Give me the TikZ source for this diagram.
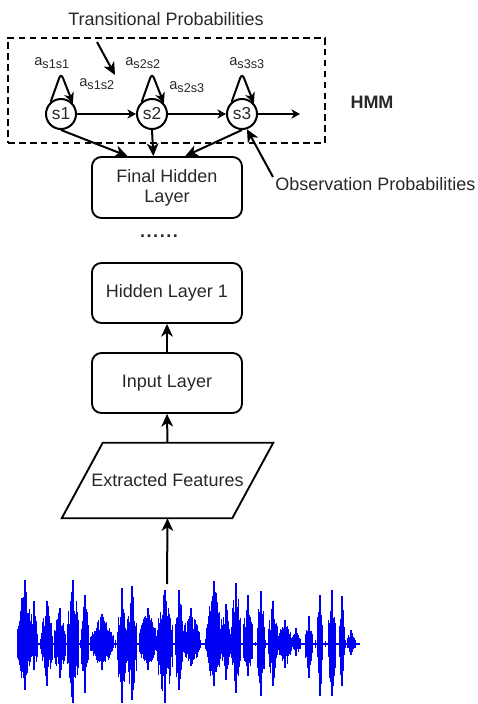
\documentclass[tikz,border=0pt]{standalone}
\usepackage{fontspec}
\setmainfont{Liberation Sans}
\usetikzlibrary{arrows.meta,calc}
\definecolor{txt}{RGB}{40,40,40}
\definecolor{waveblue}{RGB}{0,0,245}
\begin{document}
\begin{tikzpicture}[x=0.75pt,y=-0.75pt,
  lay/.style={draw,line width=1.4pt,rounded corners=7pt,minimum width=112.5pt,minimum height=45pt,align=center,inner sep=0pt,text=txt,font=\fontsize{13.5}{15}\selectfont},
  paratext/.style={minimum width=127.5pt,minimum height=56.25pt,inner sep=0pt,text=txt,font=\fontsize{13.5}{15}\selectfont},
  paraline/.style={draw,line width=1.4pt,line join=miter},
  state/.style={draw,circle,line width=1.5pt,minimum size=22.5pt,inner sep=0pt,text=txt,font=\fontsize{13}{14}\selectfont},
  conn/.style={line width=1.5pt,-{Stealth[length=9.5pt,width=8.75pt,inset=2.8pt]}},
  thinconn/.style={line width=0.8pt,-{Stealth[length=6.5pt,width=7pt,inset=2pt]}},
  loopconn/.style={line width=1.5pt,rounded corners=4pt,-{Stealth[length=8pt,width=7.5pt,inset=2.5pt]}},
  lbl/.style={text=txt,font=\fontsize{13.5}{15}\selectfont,inner sep=0pt},
  sublbl/.style={text=txt,font=\fontsize{11}{12}\selectfont,inner sep=0pt,anchor=west},
  hmmbox/.style={draw,line width=1.5pt,dash pattern=on 5pt off 3.2pt,minimum width=237.75pt,minimum height=78.75pt,inner sep=0pt},
  wave/.style={waveblue,line width=0.7pt}
]
\useasboundingbox (0,0) rectangle (478,704);
\newcommand{\sbs}[1]{\raisebox{-0.4ex}{\fontsize{9.5}{10}\selectfont #1}}

% HMM region
\node[hmmbox] (hmm) at (166.5,90.5) {};
\node[lbl] (trans) at (166,19) {Transitional Probabilities};
\node[lbl,font=\fontsize{13.5}{15}\selectfont\bfseries] (hmmlbl) at (372,102) {HMM};

\node[state] (s1) at (61,114) {s1};
\node[state] (s2) at (152,114) {s2};
\node[state] (s3) at (242,114) {s3};
\coordinate (send) at (300,114);

\node[sublbl] (a11) at (34,63) {a\sbs{s1s1}};
\node[sublbl] (a12) at (79,84) {a\sbs{s1s2}};
\node[sublbl] (a22) at (125,63) {a\sbs{s2s2}};
\node[sublbl] (a23) at (169,87) {a\sbs{s2s3}};
\node[sublbl] (a33) at (229,63) {a\sbs{s3s3}};

\foreach \s in {s1,s2,s3}{
  \draw[loopconn] (\s.130) -- ($(\s.north)+(0,-25)$) -- (\s.42);
}

\draw[thinconn] (s1) -- (s2);
\draw[thinconn] (s2) -- (s3);
\draw[thinconn] (s3) -- (send);

\coordinate (tpa) at (97,42);
\coordinate (tpb) at (115,75);
\draw[conn] (tpa) -- (tpb);

% Layers
\node[lay,minimum height=45.75pt] (fhl) at (167,187.5) {Final Hidden\\Layer};
\node[lay] (hl1) at (167,293) {Hidden Layer 1};
\node[lay] (inp) at (167,383) {Input Layer};
\node[paratext] (ef) at (167.5,480.5) {Extracted Features};
\draw[paraline] ($(ef.north west)+(20.5,0)$) -- ($(ef.north east)+(20.5,0)$)
  -- ($(ef.south east)+(-20.5,0)$) -- ($(ef.south west)+(-20.5,0)$) -- cycle;
\node[lbl,font=\fontsize{13.5}{15}\selectfont\bfseries] (dots) at (159,236) {\makebox[4.9pt]{.}\makebox[4.9pt]{.}\makebox[4.9pt]{.}\makebox[4.9pt]{.}\makebox[4.9pt]{.}\makebox[4.9pt]{.}};

\node[lbl,anchor=west] (obs) at (275,184) {Observation Probabilities};
\coordinate (opa) at (273,177);
\draw[conn] (opa) -- (s3.-72);

\draw[conn] (s1.south) -- ($(fhl.north west)!0.24!(fhl.north east)$);
\draw[conn] (s2.south) -- ($(fhl.north west)!0.41!(fhl.north east)$);
\draw[conn] (s3.south) -- ($(fhl.north west)!0.62!(fhl.north east)$);

\draw[conn] (inp.north) -- (hl1.south);
\draw[conn] (ef.north) -- (inp.south);
\coordinate (wv) at (167,584);
\draw[conn] (wv) -- (ef.south);

% Waveform
\pgfmathsetseed{11}
\draw[waveblue,line width=2.2pt] (18,644) -- (360,644);
\foreach \c/\w/\t/\b in {25/7/64/46, 34/3/43/26, 47/5/43/42, 60/5/36/34, 73/5/64/59, 85/3/49/49,
  102/11/30/26, 122/4/56/59, 132/4/58/56, 148/8/36/26, 165/7/54/59, 179/3/54/46, 191/8/36/22,
  214/7/63/42, 226/4/40/36, 236/4/61/49, 248/4/49/32, 261/3/53/52, 273/4/43/42, 285/6/24/24,
  296/3/16/12, 309/3/28/34, 320/2/49/52, 332/3/54/52, 342/2/48/42, 351/3/14/11}{
  \pgfmathsetmacro\lo{\c-\w-1}
  \pgfmathsetmacro\lt{\c-\w-0.4}
  \pgfmathsetmacro\hi{\c+\w+1}
  \foreach \x in {\lo,\lt,...,\hi}{
    \pgfmathsetmacro\e{max(0,1-abs(\x-\c)/(\w+1.5))}
    \pgfmathsetmacro\up{\t*sqrt(\e)*(0.45+0.55*rnd)}
    \pgfmathsetmacro\dn{\b*sqrt(\e)*(0.45+0.55*rnd)}
    \draw[wave] (\x,{644-\up}) -- (\x,{644+\dn});
  }
  \draw[wave,line width=0.9pt] (\c,{644-\t}) -- (\c,{644+\b});
}
\foreach \x in {20,25,...,358}{
  \pgfmathsetmacro\up{2+3*rnd}
  \draw[wave] (\x,{644-\up}) -- (\x,{644+\up});
}
\end{tikzpicture}
\end{document}
